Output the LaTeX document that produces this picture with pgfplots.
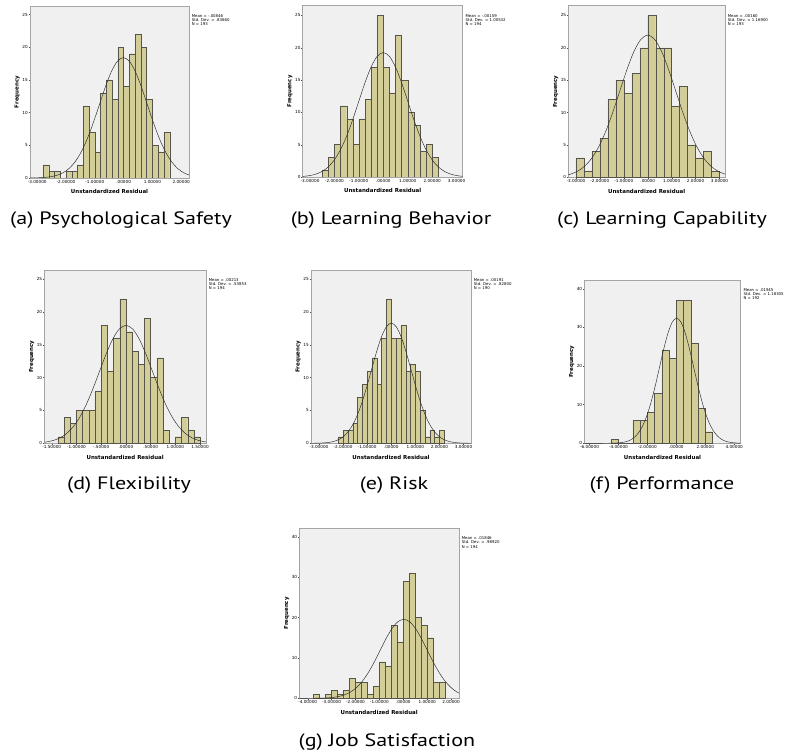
\documentclass[border=0pt]{standalone}
\usepackage{pgfplots}
\pgfplotsset{compat=1.18}
\usepackage{pgfplotstable}
\usepackage{fontspec}
\setmainfont{DejaVu Sans}
\newfontfamily\capfont[FakeStretch=1.23]{PT Sans}

\definecolor{plotbg}{RGB}{240,240,240}
\definecolor{barfill}{RGB}{211,206,151}
\definecolor{baredge}{RGB}{85,85,75}
\definecolor{framegray}{RGB}{165,165,165}

\newcommand\tickfont{\fontsize{4.2}{5}\selectfont}
\newcommand\statfont{\fontsize{3.9}{4.1}\selectfont}
\newcommand\labfont{\fontsize{5.5}{6}\selectfont\bfseries}
\newcommand\subcap[1]{\capfont\fontsize{18}{21}\selectfont #1}

% standard normal shape: f = exp(-z^2/2)
\pgfplotstableread{
z f
-6.0 0.0000000152
-5.5 0.000000267
-5.0 0.00000373
-4.5 0.0000401
-4.0 0.000335
-3.75 0.000884
-3.5 0.002187
-3.25 0.005086
-3.0 0.011109
-2.75 0.022794
-2.5 0.043937
-2.25 0.079559
-2.0 0.135335
-1.75 0.216265
-1.5 0.324652
-1.25 0.457833
-1.0 0.606531
-0.75 0.754840
-0.5 0.882497
-0.25 0.969233
0 1
0.25 0.969233
0.5 0.882497
0.75 0.754840
1.0 0.606531
1.25 0.457833
1.5 0.324652
1.75 0.216265
2.0 0.135335
2.25 0.079559
2.5 0.043937
2.75 0.022794
3.0 0.011109
3.25 0.005086
3.5 0.002187
3.75 0.000884
4.0 0.000335
4.5 0.0000401
5.0 0.00000373
5.5 0.000000267
6.0 0.0000000152
}\stdnormal

% histogram bins: left edge, count (last row closes the final bin)
\pgfplotstableread{
x n
-2.8 2
-2.6 1
-2.4 1
-2.2 0
-2.0 1
-1.8 1
-1.6 2
-1.4 11
-1.2 7
-1.0 4
-0.8 13
-0.6 15
-0.4 12
-0.2 20
0.0 14
0.2 19
0.4 22
0.6 20
0.8 12
1.0 5
1.2 4
1.4 7
1.6 0
}\histA

\pgfplotstableread{
x n
-2.5 1
-2.25 3
-2.0 5
-1.75 11
-1.5 9
-1.25 5
-1.0 9
-0.75 12
-0.5 17
-0.25 25
0.0 17
0.25 13
0.5 22
0.75 15
1.0 10
1.25 8
1.5 4
1.75 5
2.0 3
2.25 0
}\histB

\pgfplotstableread{
x n
-3.0 3
-2.6667 1
-2.3333 4
-2.0 6
-1.6667 12
-1.3333 15
-1.0 13
-0.6667 16
-0.3333 20
0.0 25
0.3333 20
0.6667 20
1.0 11
1.3333 14
1.6667 5
2.0 3
2.3333 4
2.6667 1
3.0 0
}\histC

\pgfplotstableread{
x n
-1.375 1
-1.25 4
-1.125 3
-1.0 5
-0.875 5
-0.75 5
-0.625 8
-0.5 18
-0.375 11
-0.25 16
-0.125 22
0.0 17
0.125 14
0.25 12
0.375 19
0.5 10
0.625 13
0.75 2
0.875 0
1.0 1
1.125 4
1.25 2
1.375 1
1.5 0
}\histD

\pgfplotstableread{
x n
-2.2 1
-2.0 2
-1.8 2
-1.6 3
-1.4 7
-1.2 9
-1.0 11
-0.8 13
-0.6 9
-0.4 16
-0.2 22
0.0 16
0.2 16
0.4 18
0.6 11
0.8 12
1.0 11
1.2 5
1.4 1
1.6 2
1.8 1
2.0 2
2.2 0
}\histE

\pgfplotstableread{
x n
-4.5 1
-4.0 0
-3.5 0
-3.0 6
-2.5 6
-2.0 8
-1.5 13
-1.0 24
-0.5 22
0.0 37
0.5 37
1.0 26
1.5 9
2.0 3
2.5 0
}\histF

\pgfplotstableread{
x n
-3.75 1
-3.5 0
-3.25 1
-3.0 2
-2.75 1
-2.5 2
-2.25 5
-2.0 4
-1.75 4
-1.5 1
-1.25 3
-1.0 9
-0.75 8
-0.5 18
-0.25 14
0.0 29
0.25 31
0.5 20
0.75 18
1.0 15
1.25 4
1.5 4
1.75 0
}\histG

\pgfplotsset{
  spss/.style={
    scale only axis, anchor=south west, clip mode=individual,
    axis background/.style={fill=plotbg},
    axis line style={draw=framegray, line width=0.7bp},
    tick align=outside, xtick pos=left, ytick pos=left,
    major tick length=1.4bp,
    tick style={draw=black!70, line width=0.3bp},
    ymin=0,
    ticklabel style={font=\tickfont},
    yticklabel style={inner sep=0.6bp},
    xticklabel style={inner sep=0.9bp},
    /pgf/number format/assume math mode=true,
  },
  hbar/.style={ybar interval, fill=barfill, draw=baredge, line width=0.35bp},
  ncurve/.style={black!85, line width=0.45bp, smooth, no marks},
}

% fitted normal curve: mean, sd, height at the mean
\newcommand\normcurve[3]{%
  \addplot[ncurve] table[x expr={#1+#2*\thisrow{z}}, y expr={#3*\thisrow{f}}]{\stdnormal};}
\newcommand\decor[1]{%
  \node[font=\labfont] at ([yshift=-13.7bp]rel axis cs:0.5,0) {Unstandardized Residual};
  \node[font=\labfont, rotate=90] at ([xshift=-12.7bp]rel axis cs:0,0.5) {Frequency};
  \node[anchor=north west, align=left, font=\statfont, inner sep=0]
    at ([xshift=2.6bp, yshift=-8.5bp]rel axis cs:1,1) {#1};}

\begin{document}
\begin{tikzpicture}[x=1bp, y=1bp]
\path[use as bounding box] (0,0) rectangle (786,753);

% (a)
\begin{axis}[spss, at={(30bp,575bp)}, width=159bp, height=172bp,
  xmin=-3.25, xmax=2.27, ymax=26.3,
  xtick={-3,-2,-1,0,1,2},
  xticklabels={-3.00000,-2.00000,-1.00000,.00000,1.00000,2.00000},
  ytick={0,5,10,15,20,25}]
  \addplot[hbar] table[x=x, y=n]{\histA};
  \normcurve{-0.00846}{0.83660}{18.407}
  \decor{Mean = -.00846\\Std. Dev. = .83660\\N = 193}
\end{axis}

% (b)
\begin{axis}[spss, at={(302.7bp,576bp)}, width=160bp, height=171.3bp,
  xmin=-3.30, xmax=3.25, ymax=26.5,
  xtick={-3,-2,-1,0,1,2,3},
  xticklabels={-3.00000,-2.00000,-1.00000,.00000,1.00000,2.00000,3.00000},
  ytick={0,5,10,15,20,25}]
  \addplot[hbar] table[x=x, y=n]{\histB};
  \normcurve{-0.00159}{1.00532}{19.246}
  \decor{Mean = -.00159\\Std. Dev. = 1.00532\\N = 194}
\end{axis}

% (c)
\begin{axis}[spss, at={(568.3bp,575.7bp)}, width=156.7bp, height=171.6bp,
  xmin=-3.32, xmax=3.23, ymax=26.5,
  xtick={-3,-2,-1,0,1,2,3},
  xticklabels={-3.00000,-2.00000,-1.00000,.00000,1.00000,2.00000,3.00000},
  ytick={0,5,10,15,20,25}]
  \addplot[hbar] table[x=x, y=n]{\histC};
  \normcurve{0.00160}{1.16900}{21.955}
  \decor{Mean = .00160\\Std. Dev. = 1.16900\\N = 193}
\end{axis}

% (d)
\begin{axis}[spss, at={(44.3bp,309.7bp)}, width=161.7bp, height=173.3bp,
  xmin=-1.65, xmax=1.62, ymax=26.4,
  xtick={-1.5,-1,-0.5,0,0.5,1,1.5},
  xticklabels={-1.50000,-1.00000,-.50000,.00000,.50000,1.00000,1.50000},
  ytick={0,5,10,15,20,25}]
  \addplot[hbar] table[x=x, y=n]{\histD};
  \normcurve{0.00213}{0.53853}{17.964}
  \decor{Mean = .00213\\Std. Dev. = .53853\\N = 194}
\end{axis}

% (e)
\begin{axis}[spss, at={(311bp,309.7bp)}, width=160bp, height=173.3bp,
  xmin=-3.33, xmax=3.31, ymax=26.4,
  xtick={-3,-2,-1,0,1,2,3},
  xticklabels={-3.00000,-2.00000,-1.00000,.00000,1.00000,2.00000,3.00000},
  ytick={0,5,10,15,20,25}]
  \addplot[hbar] table[x=x, y=n]{\histE};
  \normcurve{0.00191}{0.82800}{18.309}
  \decor{Mean = .00191\\Std. Dev. = .82800\\N = 190}
\end{axis}

% (f)
\begin{axis}[spss, at={(584.3bp,309.7bp)}, width=156.4bp, height=163.3bp,
  xmin=-6.36, xmax=4.45, ymax=42.25,
  xtick={-6,-4,-2,0,2,4},
  xticklabels={-6.00000,-4.00000,-2.00000,.00000,2.00000,4.00000},
  ytick={0,10,20,30,40}]
  \addplot[hbar] table[x=x, y=n]{\histF};
  \normcurve{0.01945}{1.18305}{32.373}
  \decor{Mean = .01945\\Std. Dev. = 1.18305\\N = 192}
\end{axis}

% (g)
\begin{axis}[spss, at={(299.3bp,54.7bp)}, width=159.7bp, height=170bp,
  xmin=-4.35, xmax=2.33, ymax=42.1,
  xtick={-4,-3,-2,-1,0,1,2},
  xticklabels={-4.00000,-3.00000,-2.00000,-1.00000,.00000,1.00000,2.00000},
  ytick={0,10,20,30,40}]
  \addplot[hbar] table[x=x, y=n]{\histG};
  \normcurve{0.01846}{0.98920}{19.560}
  \decor{Mean = .01846\\Std. Dev. = .98920\\N = 194}
\end{axis}

% sub-figure captions
\node[anchor=base] at (121,528) {\subcap{(a) Psychological Safety}};
\node[anchor=base] at (391,528) {\subcap{(b) Learning Behavior}};
\node[anchor=base] at (662,528) {\subcap{(c) Learning Capability}};
\node[anchor=base] at (129,263) {\subcap{(d) Flexibility}};
\node[anchor=base] at (394,263) {\subcap{(e) Risk}};
\node[anchor=base] at (662,263) {\subcap{(f) Performance}};
\node[anchor=base] at (387,6) {\subcap{(g) Job Satisfaction}};
\end{tikzpicture}
\end{document}
